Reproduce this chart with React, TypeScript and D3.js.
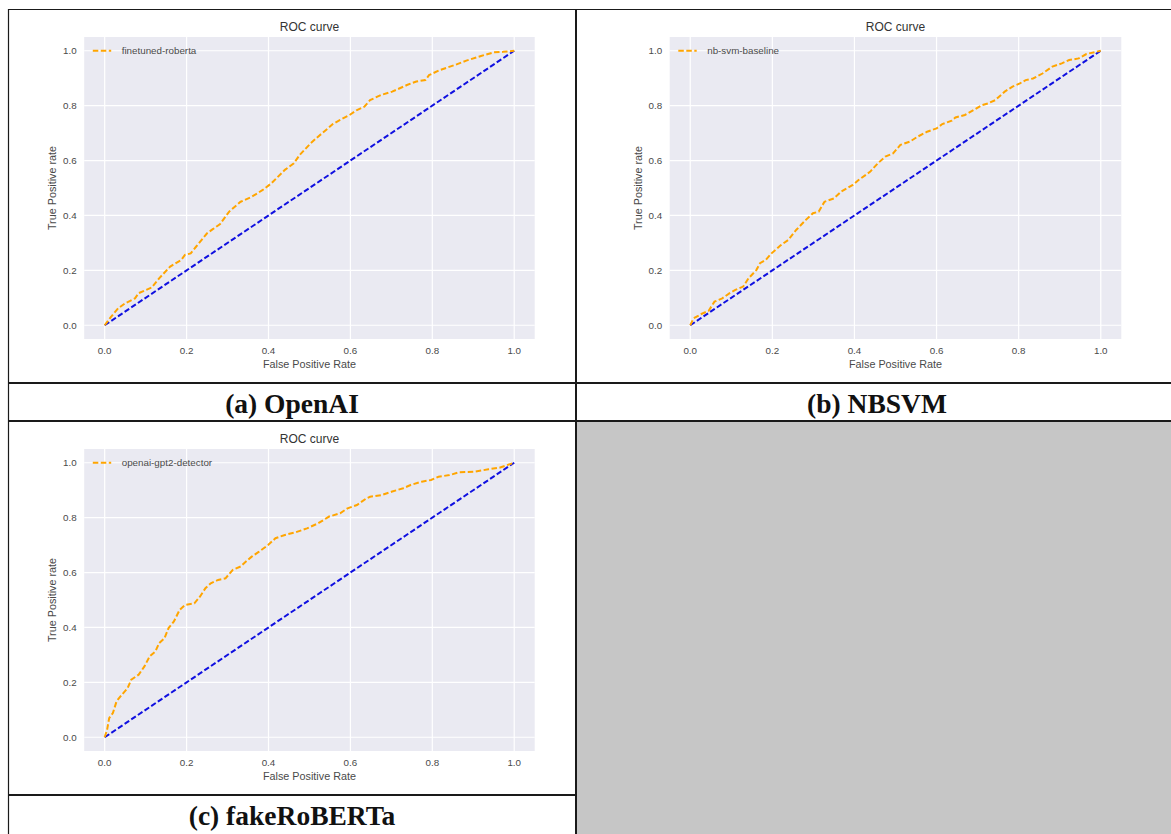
import React from 'react';
import * as d3 from 'd3';

// ROC points (false positive rate / true positive rate)
const fprOpenAI = [0, 0.015, 0.033, 0.05, 0.074, 0.083, 0.115, 0.133, 0.16, 0.187, 0.196, 0.21, 0.223, 0.25, 0.264, 0.282, 0.304, 0.332, 0.359, 0.386, 0.407, 0.44, 0.462, 0.476, 0.503, 0.521, 0.545, 0.557, 0.575, 0.598, 0.616, 0.634, 0.648, 0.675, 0.702, 0.738, 0.761, 0.783, 0.792, 0.819, 0.855, 0.883, 0.919, 0.95, 0.973, 1];
const tprOpenAI = [0, 0.03, 0.062, 0.08, 0.098, 0.117, 0.138, 0.171, 0.214, 0.238, 0.256, 0.262, 0.286, 0.335, 0.35, 0.369, 0.414, 0.45, 0.468, 0.493, 0.517, 0.566, 0.59, 0.62, 0.663, 0.687, 0.717, 0.733, 0.748, 0.766, 0.784, 0.796, 0.82, 0.839, 0.851, 0.875, 0.888, 0.893, 0.911, 0.93, 0.948, 0.964, 0.981, 0.994, 0.996, 1];

const fprNBSVM = [0, 0.008, 0.027, 0.045, 0.059, 0.078, 0.096, 0.11, 0.129, 0.142, 0.161, 0.17, 0.184, 0.198, 0.221, 0.239, 0.258, 0.281, 0.299, 0.313, 0.327, 0.35, 0.368, 0.396, 0.41, 0.438, 0.457, 0.475, 0.494, 0.512, 0.535, 0.554, 0.577, 0.6, 0.614, 0.637, 0.646, 0.669, 0.693, 0.711, 0.725, 0.743, 0.766, 0.785, 0.803, 0.817, 0.835, 0.858, 0.882, 0.905, 0.923, 0.946, 0.965, 1];
const tprNBSVM = [0, 0.025, 0.041, 0.053, 0.086, 0.098, 0.117, 0.129, 0.141, 0.171, 0.201, 0.226, 0.238, 0.262, 0.292, 0.311, 0.347, 0.383, 0.408, 0.414, 0.45, 0.462, 0.487, 0.511, 0.529, 0.559, 0.59, 0.614, 0.626, 0.657, 0.669, 0.687, 0.705, 0.717, 0.733, 0.745, 0.757, 0.766, 0.786, 0.802, 0.808, 0.82, 0.851, 0.869, 0.881, 0.893, 0.899, 0.917, 0.942, 0.954, 0.966, 0.972, 0.988, 1];

const fprFake = [0, 0.006, 0.011, 0.02, 0.029, 0.042, 0.056, 0.065, 0.083, 0.097, 0.11, 0.124, 0.133, 0.146, 0.156, 0.169, 0.183, 0.196, 0.219, 0.233, 0.246, 0.259, 0.277, 0.295, 0.313, 0.332, 0.345, 0.359, 0.377, 0.399, 0.417, 0.44, 0.467, 0.494, 0.521, 0.548, 0.575, 0.593, 0.616, 0.639, 0.648, 0.675, 0.702, 0.729, 0.747, 0.774, 0.797, 0.815, 0.842, 0.865, 0.901, 0.937, 0.964, 1];
const tprFake = [0, 0.028, 0.07, 0.088, 0.131, 0.155, 0.179, 0.21, 0.228, 0.258, 0.295, 0.313, 0.343, 0.361, 0.398, 0.422, 0.464, 0.482, 0.488, 0.513, 0.543, 0.561, 0.573, 0.579, 0.61, 0.622, 0.64, 0.658, 0.676, 0.7, 0.725, 0.737, 0.747, 0.761, 0.779, 0.804, 0.816, 0.834, 0.846, 0.87, 0.876, 0.882, 0.895, 0.907, 0.919, 0.931, 0.937, 0.949, 0.955, 0.965, 0.967, 0.976, 0.982, 1];

const diagonal = [0, 1];
const tickValues = [0, 0.2, 0.4, 0.6, 0.8, 1.0];
const legendNames = ['finetuned-roberta', 'nb-svm-baseline', 'openai-gpt2-detector'];
const captions = ['(a) OpenAI', '(b) NBSVM', '(c) fakeRoBERTa'];

const FONT = '"Liberation Sans", Arial, sans-serif';
const TEXT = '#4a4a4a';

type PanelProps = {
  left: number; top: number; w: number; h: number;
  fpr: number[]; tpr: number[]; name: string;
};

const Panel = ({ left, top, w, h, fpr, tpr, name }: PanelProps) => {
  const x = d3.scaleLinear().domain([-0.05, 1.05]).range([left, left + w]);
  const y = d3.scaleLinear().domain([-0.05, 1.05]).range([top + h, top]);
  const line = d3.line<[number, number]>().x(d => x(d[0])).y(d => y(d[1]));
  const roc = line(fpr.map((v, i) => [v, tpr[i]] as [number, number])) || '';
  const diag = line(diagonal.map(v => [v, v] as [number, number])) || '';
  const fmt = d3.format('.1f');

  return (
    <g fontFamily={FONT}>
      <rect x={left} y={top} width={w} height={h} fill="#eaeaf2" />
      {tickValues.map(t => (
        <g key={'g' + t}>
          <line x1={x(t)} x2={x(t)} y1={top} y2={top + h} stroke="#fff" strokeWidth={1.2} />
          <line x1={left} x2={left + w} y1={y(t)} y2={y(t)} stroke="#fff" strokeWidth={1.2} />
          <text x={x(t)} y={top + h + 15} textAnchor="middle" fontSize={9.8} fill={TEXT}>{fmt(t)}</text>
          <text x={left - 7.5} y={y(t) + 3.5} textAnchor="end" fontSize={9.8} fill={TEXT}>{fmt(t)}</text>
        </g>
      ))}
      <path d={diag} fill="none" stroke="#1010e0" strokeWidth={2} strokeDasharray="5.5 2.5" />
      <path d={roc} fill="none" stroke="orange" strokeWidth={2} strokeDasharray="5.5 2.5" />
      <line x1={left + 8.6} x2={left + 27} y1={y(1)} y2={y(1)} stroke="orange" strokeWidth={2} strokeDasharray="5.5 2.5" />
      <text x={left + 37.5} y={y(1) + 3.5} fontSize={9.8} fill={TEXT}>{name}</text>
      <text x={left + w / 2} y={top - 6} textAnchor="middle" fontSize={12} fill="#333">ROC curve</text>
      <text x={left + w / 2} y={top + h + 29} textAnchor="middle" fontSize={10.8} fill={TEXT}>False Positive Rate</text>
      <text transform={`translate(${left - 32},${top + h / 2}) rotate(-90)`} textAnchor="middle"
        dominantBaseline="central" fontSize={10.8} fill={TEXT}>True Positive rate</text>
    </g>
  );
};

const App = () => {
  const W = 1171, H = 834;
  const serif = '"Liberation Serif", "Times New Roman", serif';
  return (
    <svg width={W} height={H} style={{ position: 'absolute', left: 0, top: 0, background: '#fff' }}>
      <rect x={577} y={422} width={W - 577} height={H - 422} fill="#c6c6c6" />
      <Panel left={84.2} top={37} w={450.5} h={302} fpr={fprOpenAI} tpr={tprOpenAI} name={legendNames[0]} />
      <Panel left={669.7} top={37} w={451.6} h={302} fpr={fprNBSVM} tpr={tprNBSVM} name={legendNames[1]} />
      <Panel left={84.2} top={449} w={450.5} h={302} fpr={fprFake} tpr={tprFake} name={legendNames[2]} />

      {/* table rules */}
      <g stroke="#1a1a1a">
        <line x1={8} x2={W} y1={9.5} y2={9.5} strokeWidth={1} />
        <line x1={8.5} x2={8.5} y1={9} y2={H} strokeWidth={1.2} />
        <line x1={576} x2={576} y1={9} y2={H} strokeWidth={2} />
        <line x1={8} x2={W} y1={383} y2={383} strokeWidth={2} />
        <line x1={8} x2={W} y1={421} y2={421} strokeWidth={2} />
        <line x1={8} x2={576} y1={795} y2={795} strokeWidth={2} />
      </g>

      <g fontFamily={serif} fontWeight="bold" fontSize={27.5} fill="#111" textAnchor="middle">
        <text x={292} y={413}>{captions[0]}</text>
        <text x={877} y={413}>{captions[1]}</text>
        <text x={292} y={825}>{captions[2]}</text>
      </g>
    </svg>
  );
};

export default App;
